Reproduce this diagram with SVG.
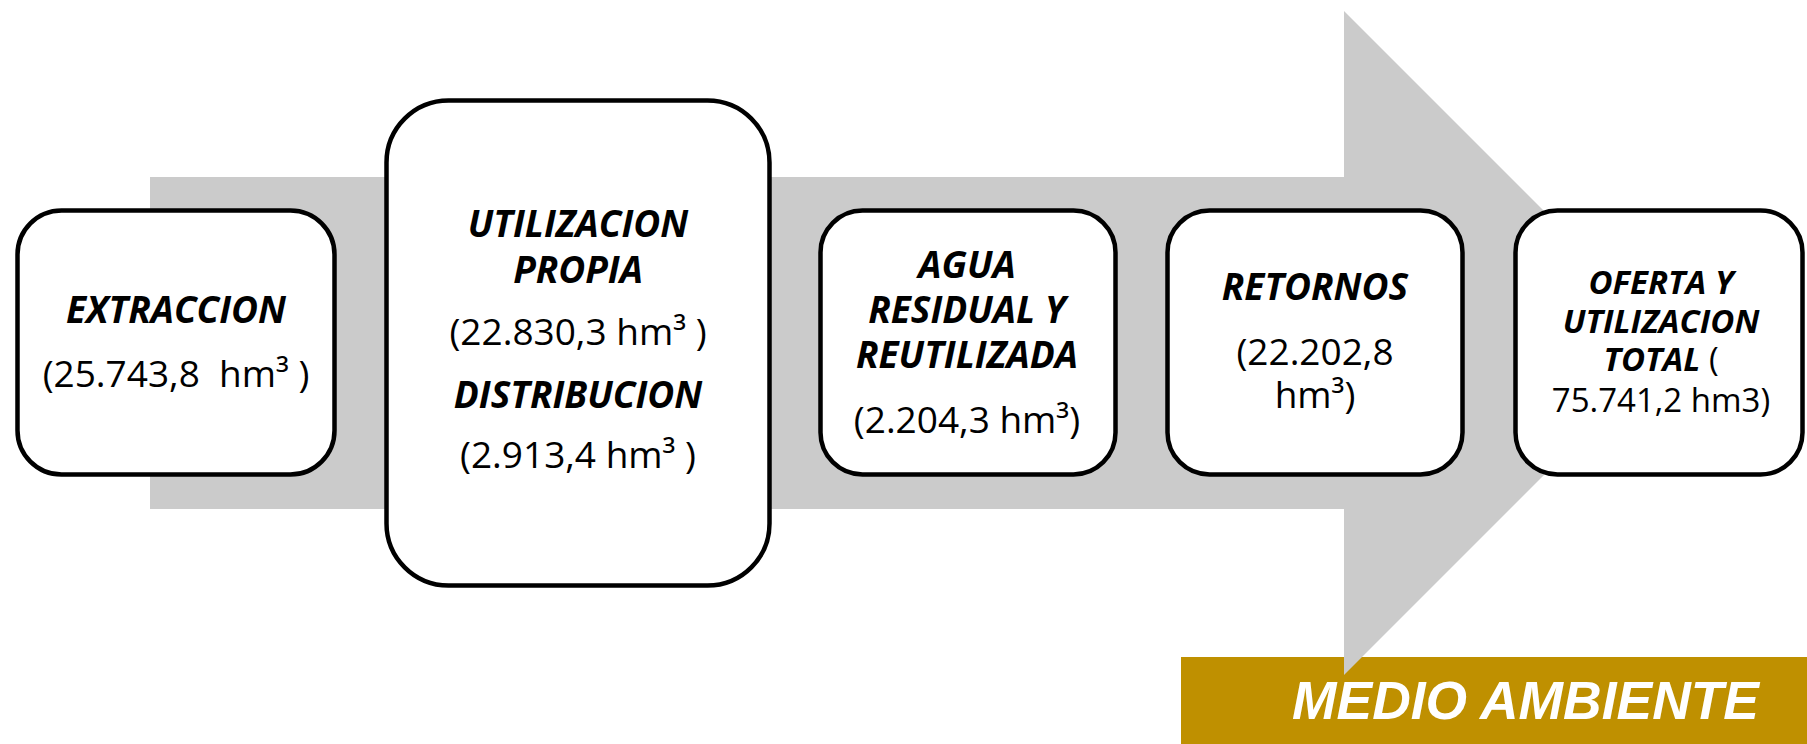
<svg xmlns="http://www.w3.org/2000/svg" width="1807" height="744" viewBox="0 0 1807 744">
<style>
.box{fill:#FFFFFF;stroke:#000000;stroke-width:4.5}
.b{font-family:"Open Sans","Liberation Sans",sans-serif;font-weight:bold;font-style:italic;font-size:37px;fill:#000;text-anchor:middle}
.r{font-family:"Open Sans","Liberation Sans",sans-serif;font-weight:normal;font-style:normal;font-size:37px;fill:#000;text-anchor:middle}
.b5{font-size:33px}
.r5{font-size:33px}
.env{font-family:"Liberation Sans",Arial,sans-serif;font-weight:bold;font-style:italic;font-size:53px;fill:#FFFFFF}
</style>
<rect id="medio-ambiente-bar" x="1181" y="657" width="626" height="87" fill="#BF9000"/>
<g id="connectors">
<polygon points="150,177 1344,177 1344,11 1676,343 1344,675 1344,509 150,509" fill="#CBCBCB"/>
</g>
<g id="extraccion">
<rect class="box" x="17.5" y="210.5" width="317" height="264" rx="44"/>
<text class="b" x="176" y="323">EXTRACCION</text>
<text class="r" x="176" y="387" xml:space="preserve">(25.743,8  hm³ )</text>
</g>
<g id="utilizacion-propia">
<rect class="box" x="386.5" y="100.5" width="383" height="485" rx="62"/>
<text class="b" x="578" y="237">UTILIZACION</text>
<text class="b" x="578" y="283">PROPIA</text>
<text class="r" x="578" y="345">(22.830,3 hm³ )</text>
<text class="b" x="578" y="408">DISTRIBUCION</text>
<text class="r" x="578" y="468">(2.913,4 hm³ )</text>
</g>
<g id="agua-residual">
<rect class="box" x="820.5" y="210.5" width="295" height="264" rx="42"/>
<text class="b" x="967" y="278">AGUA</text>
<text class="b" x="967" y="323">RESIDUAL Y</text>
<text class="b" x="967" y="368">REUTILIZADA</text>
<text class="r" x="967" y="433">(2.204,3 hm³)</text>
</g>
<g id="retornos">
<rect class="box" x="1167.5" y="210.5" width="295" height="264" rx="42"/>
<text class="b" x="1315" y="300">RETORNOS</text>
<text class="r" x="1315" y="365">(22.202,8</text>
<text class="r" x="1315" y="408">hm³)</text>
</g>
<g id="oferta-utilizacion-total">
<rect class="box" x="1515.5" y="210.5" width="287" height="264" rx="42"/>
<text class="b b5" x="1661" y="294">OFERTA Y</text>
<text class="b b5" x="1661" y="333">UTILIZACION</text>
<text class="b b5" x="1661" y="371">TOTAL<tspan class="r5" style="font-weight:normal;font-style:normal"> (</tspan></text>
<text class="r r5" x="1661" y="412">75.741,2 hm3)</text>
</g>
<g id="medio-ambiente">
<text class="env" x="1292" y="719" textLength="467" lengthAdjust="spacingAndGlyphs">MEDIO AMBIENTE</text>
</g>
</svg>
